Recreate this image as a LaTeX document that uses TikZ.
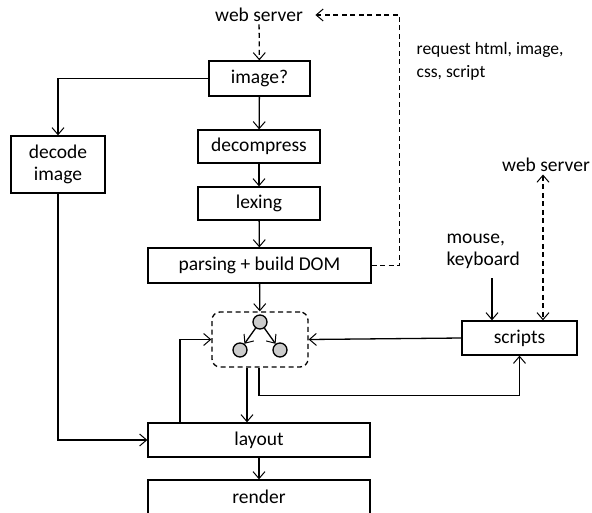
\documentclass[tikz,border=0pt]{standalone}
\usepackage{fontspec}
\setmainfont{Carlito}
\usetikzlibrary{arrows.meta}

\tikzset{
  box/.style={draw, line width=1.3pt, inner sep=0pt, font=\fontsize{19.5}{22}\selectfont},
  lbl/.style={inner sep=2pt, font=\fontsize{19.5}{22}\selectfont},
  small/.style={inner sep=0pt, align=left, font=\fontsize{17.5}{23}\selectfont},
  dot/.style={circle, draw, line width=1.3pt, fill=gray!40, minimum size=14pt, inner sep=0pt},
  dsh/.style={dash pattern=on 5pt off 3.5pt},
}

\begin{document}
\begin{tikzpicture}[x=1pt, y=-1pt, line width=1.3pt, >={Straight Barb[length=7pt,width=12pt,line width=1pt]}]
\useasboundingbox (0,0) rectangle (592,512);
% main pipeline
\node[lbl] (ws) at (259,15) {web server};
\node[box, minimum width=101pt, minimum height=35pt] (img) at (259.5,78.5) {image?};
\node[box, minimum width=122pt, minimum height=33pt] (dec) at (259,146.5) {decompress};
\node[box, minimum width=122pt, minimum height=33pt] (lex) at (259,203.5) {lexing};
\node[box, minimum width=223pt, minimum height=35pt] (parse) at (259.5,265.5) {parsing + build DOM};
\node[box, dsh, rounded corners=8pt, minimum width=96pt, minimum height=55pt] (dom) at (260,339.5) {};
\node[dot] (c1) at (260,322) {};
\node[dot] (c2) at (240,350) {};
\node[dot] (c3) at (280,350) {};
\node[box, minimum width=222pt, minimum height=34pt] (lay) at (259,440) {layout};
\node[box, minimum width=222pt, minimum height=34pt] (ren) at (259,497) {render};
% side boxes
\node[box, align=center, minimum width=94pt, minimum height=57pt] (decimg) at (58,164.5) {decode\\image};
\node[box, minimum width=115pt, minimum height=34pt] (scr) at (519.5,338) {scripts};
\node[lbl] (ws2) at (546,165) {web server};
\node[lbl, anchor=west, align=left, inner sep=0pt] (mk) at (446,251) {mouse,\\keyboard};
\node[small, anchor=west] (req) at (416,61) {request html, image,\\css, script};
\coordinate (mkend) at (492,278);

% connectors
\draw[dsh, ->] (ws) -- (img);
\draw[->] (img) -- (dec);
\draw[->] (dec) -- (lex);
\draw[->] (lex) -- (parse);
\draw[->] (parse) -- (dom);
\draw[->] (c1) -- (c2);
\draw[->] (c1) -- (c3);
\draw[->] (img.west) -| (decimg.north);
\draw[->] (decimg.south) |- (lay.west);
\draw[->] ([xshift=-79pt]lay.north) |- (dom.west);
\draw[->] ([xshift=-13pt]dom.south) -- ([xshift=-13pt]dom.south |- lay.north);
\draw[->] ([xshift=-1pt]dom.south) -- ++(0,28) -| (scr.south);
\draw[->] (scr.west) -- (dom.east);
\draw[->] (lay) -- (ren);
\draw[dsh, ->] (parse.east) -- ++(28,0) |- ([xshift=10pt]ws.east);
\draw[->] (mkend) -- (mkend |- scr.north);
\draw[dsh, <->] ([xshift=-3pt]ws2.south) -- ([xshift=-3pt]ws2.south |- scr.north);
\end{tikzpicture}
\end{document}
